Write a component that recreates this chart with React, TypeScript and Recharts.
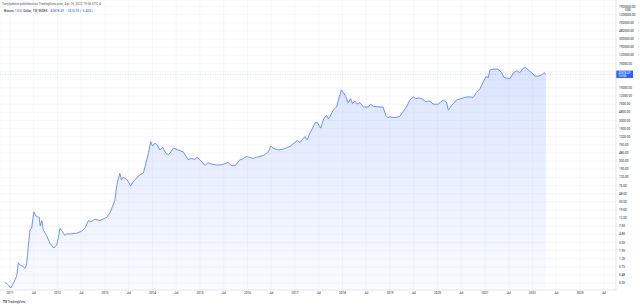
import { AreaChart, Area, XAxis, YAxis, CartesianGrid, ReferenceLine } from "recharts";

// weekly close readings, BTC/USD index
const dates = [
  "2010-11-23", "2010-12-06", "2010-12-24", "2011-01-08", "2011-01-27", "2011-02-21", "2011-03-06", "2011-03-18",
  "2011-04-12", "2011-04-25", "2011-05-08", "2011-05-22", "2011-06-03", "2011-06-16", "2011-07-03", "2011-07-19",
  "2011-07-30", "2011-08-13", "2011-08-21", "2011-09-03", "2011-09-13", "2011-10-09", "2011-11-03", "2011-12-04",
  "2011-12-25", "2012-01-08", "2012-01-19", "2012-02-02", "2012-02-27", "2012-03-11", "2012-04-05", "2012-05-27",
  "2012-07-05", "2012-07-30", "2012-08-26", "2012-09-13", "2012-10-16", "2012-11-23", "2013-01-14", "2013-02-08",
  "2013-03-04", "2013-03-18", "2013-04-01", "2013-04-11", "2013-04-25", "2013-05-08", "2013-05-19", "2013-06-02",
  "2013-06-21", "2013-07-17", "2013-08-07", "2013-09-14", "2013-10-23", "2013-11-11", "2013-11-27", "2013-12-06",
  "2013-12-17", "2014-01-01", "2014-01-19", "2014-02-01", "2014-02-27", "2014-03-19", "2014-04-14", "2014-05-01",
  "2014-05-15", "2014-06-10", "2014-07-17", "2014-08-25", "2014-10-01", "2014-10-28", "2014-11-23", "2014-12-06",
  "2015-01-01", "2015-02-08", "2015-03-05", "2015-04-01", "2015-05-09", "2015-06-18", "2015-08-03", "2015-09-03",
  "2015-10-02", "2015-11-03", "2015-11-17", "2015-12-24", "2016-01-20", "2016-02-13", "2016-03-11", "2016-05-01",
  "2016-06-09", "2016-06-30", "2016-07-17", "2016-08-25", "2016-10-01", "2016-11-23", "2017-01-01", "2017-01-19",
  "2017-02-08", "2017-03-18", "2017-04-05", "2017-04-25", "2017-05-15", "2017-06-03", "2017-06-21", "2017-07-17",
  "2017-08-11", "2017-09-02", "2017-09-15", "2017-09-26", "2017-10-23", "2017-11-17", "2017-12-07", "2017-12-24",
  "2018-01-07", "2018-01-27", "2018-02-14", "2018-03-04", "2018-03-19", "2018-04-06", "2018-04-24", "2018-05-15",
  "2018-06-10", "2018-07-19", "2018-08-05", "2018-08-25", "2018-10-01", "2018-11-09", "2018-11-30", "2018-12-17",
  "2019-01-01", "2019-02-08", "2019-03-18", "2019-04-07", "2019-05-08", "2019-06-03", "2019-06-29", "2019-07-19",
  "2019-08-07", "2019-09-03", "2019-09-28", "2019-11-03", "2019-11-28", "2020-01-04", "2020-02-13", "2020-03-11",
  "2020-03-24", "2020-04-19", "2020-05-27", "2020-07-17", "2020-08-25", "2020-10-01", "2020-10-27", "2020-11-23",
  "2020-12-18", "2021-01-08", "2021-01-26", "2021-02-08", "2021-03-05", "2021-04-05", "2021-04-20", "2021-05-08",
  "2021-05-27", "2021-06-16", "2021-07-11", "2021-08-07", "2021-09-02", "2021-09-26", "2021-10-22", "2021-11-12",
  "2021-11-29", "2021-12-25", "2022-01-19", "2022-02-13", "2022-03-11", "2022-03-30", "2022-04-14",
];

const closes = [
  0.31, 0.30, 0.26, 0.23, 0.30, 0.45, 0.96, 0.85,
  0.77, 0.70, 0.85, 2.5, 6.1, 6.7, 17, 13.5,
  13.0, 12.5, 7.7, 10.4, 6.1, 4.5, 2.9, 2.2,
  2.6, 4.0, 6.7, 5.9, 4.5, 4.9, 4.9, 5.1,
  5.7, 6.7, 10.4, 9.7, 11.3, 10.4, 12.5, 16,
  25, 33, 75, 104, 151, 104, 120, 114,
  104, 74, 94, 130, 156, 266, 420, 565,
  904, 711, 830, 780, 565, 660, 470, 430,
  470, 625, 565, 510, 330, 350, 330, 375,
  325, 235, 275, 255, 240, 245, 280, 230,
  240, 325, 330, 390, 370, 350, 375, 410,
  510, 711, 625, 565, 590, 690, 865, 970,
  865, 1210, 1000, 1460, 1900, 2600, 2700, 1950,
  3400, 3990, 3300, 3700, 5500, 6500, 11500, 17000,
  14600, 11500, 8100, 10300, 7800, 9000, 7600, 8300,
  6500, 6400, 7600, 6700, 6500, 6400, 3990, 3500,
  3700, 3500, 3800, 4700, 6500, 9600, 11400, 10300,
  10800, 10300, 8800, 9000, 7600, 7500, 9500, 8400,
  5400, 7000, 9600, 10800, 11500, 11100, 14700, 18000,
  26400, 36000, 34000, 52000, 55000, 55000, 52000, 45000,
  34000, 33000, 32000, 44000, 50000, 45000, 58000, 60000,
  52000, 45000, 37000, 37000, 39000, 45000, 40878.49,
];

const priceTicks = [
  0.3, 0.48, 0.75, 1.2, 1.9, 3, 4.8, 7.5, 12, 19, 30, 48, 75, 120, 190, 300, 480, 750,
  1200, 1900, 3000, 4800, 7500, 12000, 19000, 30000, 48000, 75000, 120000, 190000,
  300000, 480000, 750000, 1200000, 1900000,
];

const yearTicks = [
  2011, 2011.5, 2012, 2012.5, 2013, 2013.5, 2014, 2014.5, 2015, 2015.5, 2016, 2016.5, 2017,
  2017.5, 2018, 2018.5, 2019, 2019.5, 2020, 2020.5, 2021, 2021.5, 2022, 2022.5, 2023, 2023.5,
];

const lastClose = 40878.49;
const change = "−2816.93 (−6.45%)";

const toYear = (d: string) => {
  const [y, m, dd] = d.split("-").map(Number);
  const start = Date.UTC(y, 0, 1);
  const end = Date.UTC(y + 1, 0, 1);
  return y + (Date.UTC(y, m - 1, dd) - start) / (end - start);
};

const data = dates.map((d, i) => ({ t: toYear(d), close: closes[i] }));

const FONT = "Roboto, 'DejaVu Sans', sans-serif";
const BLUE = "#2962ff";

function PriceTick(props: any) {
  const { x, y, payload, index } = props;
  const v = payload.value as number;
  if (Math.abs(Math.log10(v) - Math.log10(lastClose)) < 0.15) return null;
  return (
    <g>
      <text x={x} y={y} dy="0.35em" fontSize={3.1} fill="#131722" fontFamily={FONT}>
        {v.toFixed(2)}
      </text>
      {index === priceTicks.length - 1 && (
        <text x={x + 6} y={y + 3} dy="0.35em" fontSize={3.1} fill="#131722" fontFamily={FONT}>
          USD
        </text>
      )}
    </g>
  );
}

function PriceTag(props: any) {
  const vb = props.viewBox;
  if (!vb) return null;
  const x = vb.x + vb.width;
  const y = vb.y;
  return (
    <g>
      <rect x={x} y={y - 3.7} width={17} height={7.4} fill={BLUE} />
      <text x={x + 2.5} y={y - 1.5} dy="0.35em" fontSize={2.8} fill="#fff" fontFamily={FONT}>
        {lastClose.toFixed(2)}
      </text>
      <text x={x + 2.5} y={y + 1.6} dy="0.35em" fontSize={2.6} fill="#fff" fontFamily={FONT}>
        2d 04h
      </text>
    </g>
  );
}

export default function App() {
  return (
    <div style={{ position: "absolute", left: 0, top: 0, width: 640, height: 306, background: "#fff", fontFamily: FONT }}>
      <AreaChart width={640} height={306} data={data} margin={{ top: 0, right: 0, bottom: 0, left: 0 }}>
        <defs>
          <linearGradient id="btcFill" x1="0" y1="0" x2="0" y2="1">
            <stop offset="0%" stopColor={BLUE} stopOpacity={0.28} />
            <stop offset="100%" stopColor={BLUE} stopOpacity={0.04} />
          </linearGradient>
        </defs>
        <CartesianGrid stroke="#f2f4f9" strokeWidth={0.6} />
        <XAxis
          dataKey="t"
          type="number"
          domain={[2010.789, 2023.758]}
          allowDataOverflow
          ticks={yearTicks}
          interval={0}
          height={16}
          tickLine={false}
          tickSize={0}
          tickMargin={2}
          axisLine={{ stroke: "#e0e3eb", strokeWidth: 0.7 }}
          tick={{ fontSize: 3.1, fill: "#131722", fontFamily: FONT }}
          tickFormatter={(v: number) => (Number.isInteger(v) ? String(v) : "Jul")}
        />
        <YAxis
          orientation="right"
          scale="log"
          domain={[0.205, 2740000]}
          allowDataOverflow
          ticks={priceTicks}
          interval={0}
          width={24}
          tickLine={false}
          tickSize={0}
          tickMargin={3}
          axisLine={{ stroke: "#e0e3eb", strokeWidth: 0.7 }}
          tick={<PriceTick />}
        />
        <ReferenceLine
          y={lastClose}
          stroke={BLUE}
          strokeOpacity={0.4}
          strokeWidth={0.6}
          strokeDasharray="1 1.5"
          label={<PriceTag />}
        />
        <Area
          type="linear"
          dataKey="close"
          stroke="#4d78f7"
          strokeWidth={0.8}
          fill="url(#btcFill)"
          baseValue="dataMin"
          dot={false}
          activeDot={false}
          isAnimationActive={false}
        />
      </AreaChart>
      <div style={{ position: "absolute", left: 2, top: 2.5, fontSize: 3.2, color: "#50535e", whiteSpace: "nowrap", lineHeight: 1 }}>
        TonyIpdotro published on TradingView.com, Apr 15, 2022 19:06 UTC-4
      </div>
      <div style={{ position: "absolute", left: 4, top: 9.5, fontSize: 3.2, color: "#131722", whiteSpace: "nowrap", lineHeight: 1 }}>
        Bitcoin / U.S. Dollar, 1W, INDEX{"  "}
        <span style={{ color: BLUE, marginLeft: 2 }}>{lastClose.toFixed(2)}</span>
        <span style={{ color: BLUE, marginLeft: 2 }}>{change}</span>
      </div>
      <div style={{ position: "absolute", left: 3, top: 300.5, fontSize: 3.2, color: "#131722", whiteSpace: "nowrap", lineHeight: 1 }}>
        <b>TV</b> TradingView
      </div>
    </div>
  );
}
